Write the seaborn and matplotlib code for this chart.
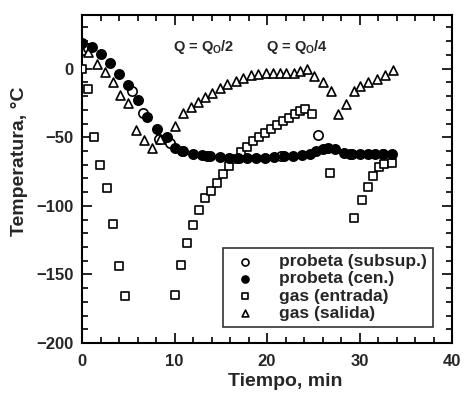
import matplotlib
matplotlib.use("Agg")
import matplotlib.pyplot as plt
import seaborn as sns
import pandas as pd

# ---- data ----
t_sub = [0.6, 5.4, 6.6, 8.3, 9.5, 10.8, 13.5, 17.0, 21.5, 25.5, 29.0, 32.5]
T_sub = [15.0, -16.0, -32.0, -51.0, -54.0, -60.0, -64.0, -65.0, -64.0, -48.5, -62.5, -62.5]

t_cen = [0.0, 1.1, 2.05, 3.0, 4.0, 5.0, 6.05, 7.05, 8.1, 9.2, 10.05, 10.9, 12.0, 13.0,
         13.8, 14.9, 15.9, 16.9, 17.8, 18.8, 19.8, 20.8, 21.8, 22.8, 23.8, 24.6, 25.3,
         26.0, 26.6, 27.4, 28.3, 29.2, 30.1, 30.9, 31.7, 32.5, 33.5]
T_cen = [18.5, 16.0, 11.0, 4.4, -3.6, -11.7, -23.0, -35.0, -44.0, -50.0, -58.0, -60.0,
         -62.0, -63.0, -64.0, -64.5, -65.0, -65.0, -65.0, -65.0, -65.0, -64.5, -64.0,
         -63.5, -63.0, -62.0, -60.0, -58.5, -58.0, -58.5, -61.5, -62.5, -62.5, -62.5,
         -62.5, -62.5, -62.5]

t_in = [0.0, 0.65, 1.3, 1.95, 2.7, 3.3, 4.0, 4.65,
        10.05, 10.7, 11.35, 12.0, 12.65, 13.3, 13.95, 14.6, 15.25, 15.9, 16.55, 17.2,
        17.85, 18.5, 19.15, 19.8, 20.45, 21.1, 21.75, 22.4, 23.05, 23.6, 24.1, 24.9,
        26.8, 29.4, 30.3, 30.9, 31.5, 32.1, 32.7, 33.5]
T_in = [0.0, -15.0, -50.0, -70.0, -87.0, -113.0, -144.0, -166.0,
        -165.0, -143.0, -127.0, -114.0, -103.0, -94.0, -89.0, -83.0, -77.0, -71.0,
        -66.0, -61.0, -57.0, -53.0, -50.0, -47.0, -44.0, -41.0, -38.5, -36.0, -33.0,
        -30.8, -29.3, -33.0, -76.0, -109.0, -96.0, -86.0, -78.0, -72.0, -69.5, -68.5]

t_out = [0.65, 1.6, 2.5, 3.35, 4.1, 5.0, 5.8, 6.7, 7.55, 8.4, 10.05, 10.9, 11.8, 12.55,
         13.3, 14.1, 14.9, 15.7, 16.6, 17.4, 18.3, 19.0, 19.9, 20.6, 21.4, 22.1, 22.9,
         23.6, 24.3, 25.1, 26.0, 26.9, 27.7, 28.5, 29.4, 30.1, 30.9, 31.9, 32.8, 33.6]
T_out = [12.0, 3.5, -2.6, -9.5, -19.0, -25.0, -45.0, -52.0, -58.0, -51.0, -42.0, -32.0,
         -28.0, -24.0, -20.5, -17.5, -14.0, -11.0, -8.8, -6.6, -4.5, -4.0, -3.5, -3.5,
         -3.5, -3.0, -3.0, -2.0, 0.0, -5.0, -9.5, -16.0, -33.0, -26.0, -16.0, -13.0,
         -10.0, -7.5, -4.6, -1.0]

labels = ["probeta (subsup.)", "probeta (cen.)", "gas (entrada)", "gas (salida)"]
x_ticks = [0, 10, 20, 30, 40]
y_ticks = [0, -50, -100, -150, -200]

# ---- style ----
sns.set_style("ticks")
plt.rcParams["font.family"] = ["Liberation Sans", "DejaVu Sans"]
plt.rcParams["font.weight"] = "bold"
plt.rcParams["mathtext.fontset"] = "custom"
plt.rcParams["mathtext.rm"] = "Liberation Sans:bold"
plt.rcParams["mathtext.it"] = "Liberation Sans:bold"
plt.rcParams["mathtext.bf"] = "Liberation Sans:bold"

fig = plt.figure(figsize=(4.66, 3.98), dpi=100)
ax = fig.add_axes([0.176, 0.138, 0.794, 0.824])

frames = [
    (pd.DataFrame({"t": t_sub, "T": T_sub}), "o", "white", labels[0], 45),
    (pd.DataFrame({"t": t_in, "T": T_in}), "s", "white", labels[2], 32),
    (pd.DataFrame({"t": t_out, "T": T_out}), "^", "white", labels[3], 42),
    (pd.DataFrame({"t": t_cen, "T": T_cen}), "o", "black", labels[1], 45),
]
for df, m, fc, lab, sz in frames:
    sns.scatterplot(data=df, x="t", y="T", marker=m, s=sz, color=fc,
                    edgecolor="black", linewidth=1.2, ax=ax, label=lab, zorder=3)

ax.set_xlim(0, 40)
ax.set_ylim(-200, 39)
ax.set_xticks(x_ticks)
ax.set_yticks(y_ticks)
ax.set_xticks(range(0, 41, 2), minor=True)
ax.set_yticks(range(-200, 31, 10), minor=True)
ax.tick_params(which="both", direction="in", top=True, right=True, width=1.2,
               color="black")
ax.tick_params(which="major", length=7, labelsize=12)
ax.tick_params(which="minor", length=4)
ax.tick_params(axis="x", which="major", pad=8)
ax.tick_params(axis="y", which="major", pad=6)
for lbl in ax.get_xticklabels() + ax.get_yticklabels():
    lbl.set_fontweight("bold")
for sp in ax.spines.values():
    sp.set_linewidth(1.5)
    sp.set_color("black")

ax.set_xlabel("Tiempo, min", fontsize=14, fontweight="bold")
ax.set_ylabel("Temperatura, °C", fontsize=14, fontweight="bold")
ax.xaxis.set_label_coords(0.55, -0.092)
ax.yaxis.set_label_coords(-0.145, 0.555)

ax.text(13.2, 15.5, r"Q = Q$_{\mathrm{O}}$/2", fontsize=10.5, fontweight="bold",
        ha="center", va="center")
ax.text(23.2, 15.5, r"Q = Q$_{\mathrm{O}}$/4", fontsize=10.5, fontweight="bold",
        ha="center", va="center")

h, l = ax.get_legend_handles_labels()
order = [l.index(x) for x in labels]
leg = ax.legend([h[i] for i in order], [l[i] for i in order],
                loc="lower right", bbox_to_anchor=(0.949, 0.049), borderaxespad=0,
                frameon=True, fancybox=False, edgecolor="black", fontsize=12.5,
                handletextpad=1.0, labelspacing=0.12, markerscale=0.75,
                borderpad=0.35, handlelength=1.9)
leg.get_frame().set_linewidth(1.2)
for txt in leg.get_texts():
    txt.set_fontweight("bold")

fig.savefig("out.png", dpi=100)
